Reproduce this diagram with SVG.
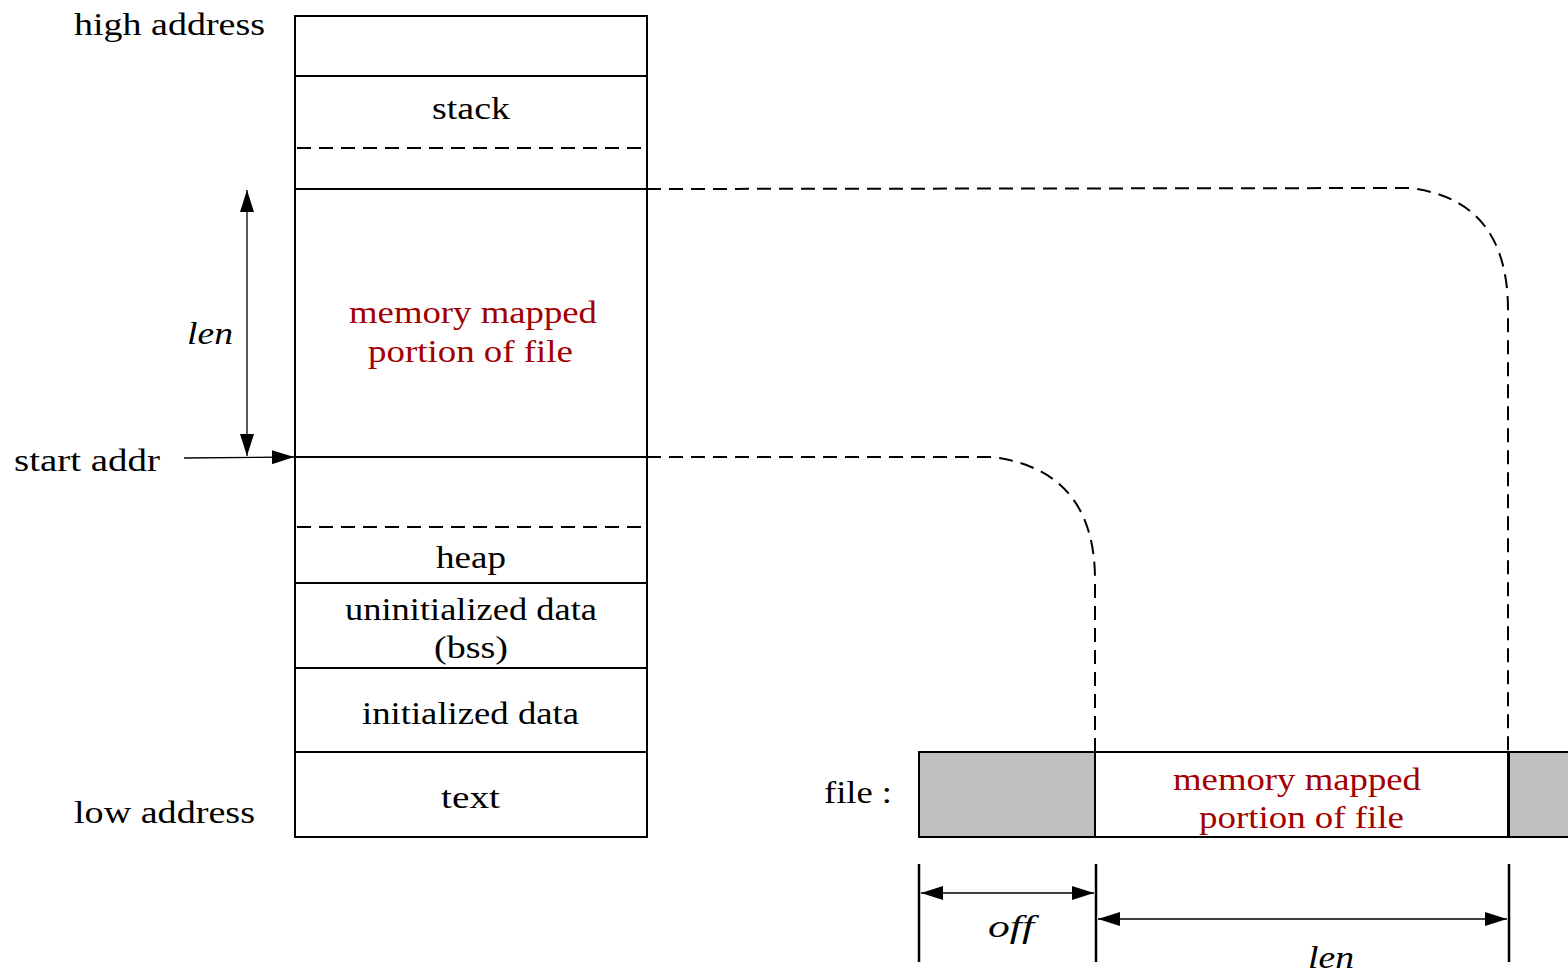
<svg xmlns="http://www.w3.org/2000/svg" width="1568" height="972" viewBox="0 0 1568 972">
  <style>
    .t { font-family: "Liberation Serif", "DejaVu Serif", serif; font-size: 31px; fill: #000; }
    .i { font-style: italic; }
    .red { fill: #a30000; }
    .box { fill: #fff; stroke: #000; stroke-width: 2; }
    .sep { stroke: #000; stroke-width: 2; fill: none; }
    .dash { stroke: #000; stroke-width: 2; fill: none; stroke-dasharray: 14 8; }
    .thin { stroke: #000; stroke-width: 1.3; fill: none; }
    .tick { stroke: #000; stroke-width: 2.5; fill: none; }
  </style>
  <defs>
    <marker id="ah" viewBox="0 0 22 14" refX="22" refY="7" markerWidth="22" markerHeight="14" markerUnits="userSpaceOnUse" orient="auto-start-reverse">
      <path d="M0,0 L22,7 L0,14 Z" fill="#000"/>
    </marker>
  </defs>

  <!-- address labels -->
  <g id="labels">
    <text class="t" x="74" y="35" textLength="191" lengthAdjust="spacingAndGlyphs">high address</text>
    <text class="t" x="74" y="823" textLength="181" lengthAdjust="spacingAndGlyphs">low address</text>
    <text class="t" x="14" y="471" textLength="146" lengthAdjust="spacingAndGlyphs">start addr</text>
    <text class="t i" x="187" y="344" textLength="46" lengthAdjust="spacingAndGlyphs">len</text>
  </g>

  <!-- process address space -->
  <g id="memory">
    <rect class="box" x="295" y="16" width="352" height="821"/>
    <line class="sep" x1="295" y1="76" x2="647" y2="76"/>
    <line class="dash" x1="297" y1="148" x2="645" y2="148"/>
    <line class="sep" x1="295" y1="189" x2="647" y2="189"/>
    <line class="sep" x1="295" y1="457" x2="647" y2="457"/>
    <line class="dash" x1="297" y1="527" x2="645" y2="527"/>
    <line class="sep" x1="295" y1="583" x2="647" y2="583"/>
    <line class="sep" x1="295" y1="668" x2="647" y2="668"/>
    <line class="sep" x1="295" y1="752" x2="647" y2="752"/>
    <text class="t" x="432" y="119" textLength="78" lengthAdjust="spacingAndGlyphs">stack</text>
    <text class="t red" x="349" y="323" textLength="248" lengthAdjust="spacingAndGlyphs">memory mapped</text>
    <text class="t red" x="368" y="362" textLength="205" lengthAdjust="spacingAndGlyphs">portion of file</text>
    <text class="t" x="436" y="568" textLength="70" lengthAdjust="spacingAndGlyphs">heap</text>
    <text class="t" x="345" y="620" textLength="252" lengthAdjust="spacingAndGlyphs">uninitialized data</text>
    <text class="t" x="434" y="658" textLength="74" lengthAdjust="spacingAndGlyphs">(bss)</text>
    <text class="t" x="362" y="724" textLength="217" lengthAdjust="spacingAndGlyphs">initialized data</text>
    <text class="t" x="441" y="808" textLength="59" lengthAdjust="spacingAndGlyphs">text</text>
  </g>

  <!-- file -->
  <g id="file">
    <text class="t" x="824" y="803" textLength="68" lengthAdjust="spacingAndGlyphs">file :</text>
    <rect x="919" y="752" width="176" height="85" fill="#c0c0c0" stroke="#000" stroke-width="2"/>
    <rect x="1095" y="752" width="413" height="85" fill="#fff" stroke="#000" stroke-width="2"/>
    <rect x="1509" y="752" width="62" height="85" fill="#c0c0c0" stroke="#000" stroke-width="2"/>
    <text class="t red" x="1173" y="790" textLength="248" lengthAdjust="spacingAndGlyphs">memory mapped</text>
    <text class="t red" x="1199" y="828" textLength="205" lengthAdjust="spacingAndGlyphs">portion of file</text>
  </g>

  <!-- connectors and dimension arrows -->
  <g id="connectors">
    <path class="dash" d="M647,189 L1410,188 Q1508,200 1508,310 L1508,752"/>
    <path class="dash" d="M647,457 L992,457 Q1095,470 1095,580 L1095,752"/>
    <line class="thin" x1="247" y1="190" x2="247" y2="456" marker-start="url(#ah)" marker-end="url(#ah)"/>
    <line class="thin" x1="184" y1="458" x2="294" y2="457" marker-end="url(#ah)"/>
    <line class="tick" x1="919" y1="864" x2="919" y2="962"/>
    <line class="tick" x1="1096" y1="864" x2="1096" y2="962"/>
    <line class="tick" x1="1509" y1="864" x2="1509" y2="962"/>
    <line class="thin" x1="921" y1="893" x2="1094" y2="893" marker-start="url(#ah)" marker-end="url(#ah)"/>
    <line class="thin" x1="1098" y1="919" x2="1507" y2="919" marker-start="url(#ah)" marker-end="url(#ah)"/>
    <text class="t i" x="988" y="937" textLength="46" lengthAdjust="spacingAndGlyphs">off</text>
    <text class="t i" x="1308" y="968" textLength="46" lengthAdjust="spacingAndGlyphs">len</text>
  </g>
</svg>
